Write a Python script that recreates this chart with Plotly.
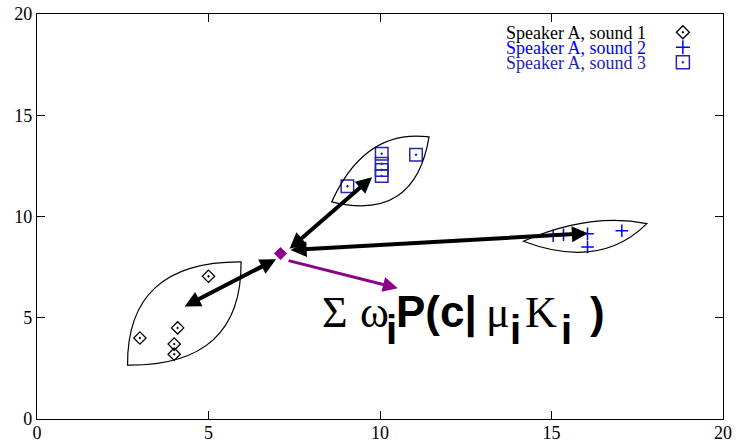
import plotly.graph_objects as go

# ---------------- data ----------------
s1_x = [3.0, 4.0, 4.0, 4.1, 5.0]
s1_y = [4.0, 3.7, 3.2, 4.5, 7.05]
s2_x = [15.05, 15.35, 16.05, 16.05, 17.05]
s2_y = [9.05, 9.1, 9.15, 8.5, 9.3]
s3_x = [9.05, 10.05, 10.05, 10.05, 10.05, 11.05]
s3_y = [11.5, 13.1, 12.6, 12.3, 12.0, 13.05]
series_names = ["Speaker A, sound 1", "Speaker A, sound 2", "Speaker A, sound 3"]

# centroid point
c_x = [7.1]
c_y = [8.17]

# lens outlines: start corner, end corner, upper control, lower control
leaf_p0 = [(2.64, 2.66), (8.59, 10.72), (14.18, 8.78)]
leaf_p1 = [(5.95, 7.76), (11.43, 13.93), (17.78, 9.65)]
leaf_cu = [(2.62, 7.79), (9.56, 14.35), (16.12, 10.21)]
leaf_cl = [(5.98, 2.61), (11.02, 9.72), (16.41, 7.35)]

# double-headed arrows (tail, head) in data units
arrow_a = [(4.26, 5.52), (7.32, 8.34), (7.35, 8.34)]
arrow_b = [(6.97, 7.89), (9.77, 11.94), (16.06, 9.17)]
# single purple arrow
parrow_a = (7.29, 7.84)
parrow_b = (10.52, 6.46)

x_ticks = [0, 5, 10, 15, 20]
y_ticks = [0, 5, 10, 15, 20]

# ---------------- styles ----------------
PURPLE = "#8a008a"
BLUE = "#0000ff"
DBLUE = "#2626a8"
SERIF = "Liberation Serif, Times New Roman, serif"
SANS = "Liberation Sans, Arial, sans-serif"

fig = go.Figure()

fig.add_trace(go.Scatter(x=s1_x, y=s1_y, mode="markers", name=series_names[0],
                         marker=dict(symbol="diamond-open-dot", size=9.5, color="black",
                                     line=dict(width=1.3, color="black"))))
fig.add_trace(go.Scatter(x=s2_x, y=s2_y, mode="markers", name=series_names[1],
                         marker=dict(symbol="cross-thin-open", size=9, color=BLUE,
                                     line=dict(width=1.5, color=BLUE))))
fig.add_trace(go.Scatter(x=s3_x, y=s3_y, mode="markers", name=series_names[2],
                         marker=dict(symbol="square-open-dot", size=12.5, color=DBLUE,
                                     line=dict(width=1.5, color=DBLUE))))
fig.add_trace(go.Scatter(x=c_x, y=c_y, mode="markers",
                         marker=dict(symbol="diamond", size=10, color=PURPLE,
                                     line=dict(width=0))))

# legend symbols (drawn at right of text, as in the original)
LEG_X = 18.83
LEG_Y = [19.1, 18.36, 17.62]
fig.add_trace(go.Scatter(x=[LEG_X], y=[LEG_Y[0]], mode="markers",
                         marker=dict(symbol="diamond-open-dot", size=10, color="black",
                                     line=dict(width=1.3, color="black"))))
fig.add_trace(go.Scatter(x=[LEG_X], y=[LEG_Y[1]], mode="markers",
                         marker=dict(symbol="cross-thin-open", size=10, color=BLUE,
                                     line=dict(width=1.5, color=BLUE))))
fig.add_trace(go.Scatter(x=[LEG_X], y=[LEG_Y[2]], mode="markers",
                         marker=dict(symbol="square-open-dot", size=13, color=DBLUE,
                                     line=dict(width=1.5, color=DBLUE))))

shapes = []
for p0, p1, cu, cl in zip(leaf_p0, leaf_p1, leaf_cu, leaf_cl):
    path = (f"M {p0[0]},{p0[1]} Q {cu[0]},{cu[1]} {p1[0]},{p1[1]} "
            f"Q {cl[0]},{cl[1]} {p0[0]},{p0[1]} Z")
    shapes.append(dict(type="path", path=path, xref="x", yref="y",
                       line=dict(color="black", width=1.2)))

annotations = []
for a, b in zip(arrow_a, arrow_b):
    annotations.append(dict(x=b[0], y=b[1], ax=a[0], ay=a[1], xref="x", yref="y",
                            axref="x", ayref="y", text="", showarrow=True,
                            arrowhead=2, startarrowhead=2, arrowside="end+start",
                            arrowsize=0.8, startarrowsize=0.8, arrowwidth=4,
                            arrowcolor="black"))
annotations.append(dict(x=parrow_b[0], y=parrow_b[1], ax=parrow_a[0], ay=parrow_a[1],
                        xref="x", yref="y", axref="x", ayref="y", text="",
                        showarrow=True, arrowhead=2, arrowsize=1.0, arrowwidth=3,
                        arrowcolor=PURPLE))

# legend text
leg_colors = ["black", BLUE, DBLUE]
leg_ty = [0.952, 0.916, 0.879]
for name, col, ty in zip(series_names, leg_colors, leg_ty):
    annotations.append(dict(x=0.889, y=ty, xref="paper", yref="paper", text=name,
                            showarrow=False, xanchor="right", yanchor="middle",
                            borderpad=0,
                            font=dict(family=SERIF, size=18, color=col)))

# formula pieces: (text, x, y, family, bold, size)
FS = 44
SFS = 40
MAIN_Y = 5.28
SUB_Y = 4.42
pieces = [
    ("Σ", 8.28, MAIN_Y, SERIF, False, FS),
    ("ω", 9.38, MAIN_Y, SERIF, False, FS),
    ("i", 10.14, SUB_Y, SANS, True, SFS),
    ("P(c|", 10.45, MAIN_Y, SANS, True, FS),
    ("μ", 13.06, MAIN_Y, SERIF, False, FS),
    ("i", 13.76, SUB_Y, SANS, True, SFS),
    ("K", 14.2, MAIN_Y, SERIF, False, FS),
    ("i", 15.26, SUB_Y, SANS, True, SFS),
    (")", 16.1, MAIN_Y, SANS, True, FS),
]
for t, x, y, fam, bold, fs in pieces:
    annotations.append(dict(x=x, y=y, xref="x", yref="y",
                            text=f"<b>{t}</b>" if bold else t,
                            showarrow=False, xanchor="left", yanchor="middle",
                            borderpad=0,
                            font=dict(family=fam, size=fs, color="black")))

axis_common = dict(showgrid=False, zeroline=False, showline=True, linecolor="black",
                   linewidth=1.3, mirror="ticks", ticks="inside", ticklen=8,
                   tickwidth=1, tickcolor="black", automargin=False,
                   tickfont=dict(family=SERIF, size=18, color="black"))

fig.update_layout(
    width=736, height=444,
    margin=dict(l=37, r=13, t=13.5, b=25),
    paper_bgcolor="white", plot_bgcolor="white",
    showlegend=False,
    xaxis=dict(range=[0, 20], tickvals=x_ticks, ticktext=[str(v) for v in x_ticks],
               ticklabelstandoff=-3, **axis_common),
    yaxis=dict(range=[0, 20], tickvals=y_ticks, ticktext=[str(v) for v in y_ticks],
               **axis_common),
    shapes=shapes,
    annotations=annotations,
)

fig.write_html("out.html")
